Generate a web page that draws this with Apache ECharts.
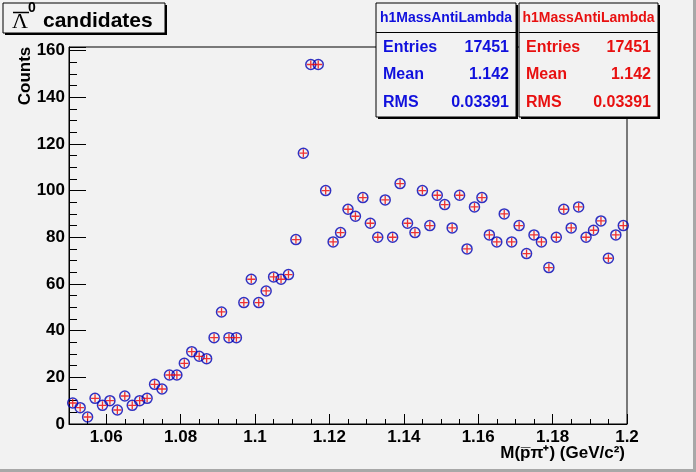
<!DOCTYPE html>
<html>
<head>
<meta charset="utf-8">
<script src="https://cdn.jsdelivr.net/npm/echarts@6/dist/echarts.min.js"></script>
<style>
html,body{margin:0;padding:0;background:#f2f2f2;}
#c{width:696px;height:472px;}
</style>
</head>
<body>
<div id="c"></div>
<script>
// Histogram definition (75 bins of 0.002 GeV/c^2 from 1.05 to 1.20)
const histLow = 1.05;
const binWidth = 0.002;
// Bin contents (both histograms are identical)
const countsBlue = [9,7,3,11,8,10,6,12,8,10,11,17,15,21,21,26,31,29,28,37,48,37,37,52,62,
                    52,57,63,62,64,79,116,154,154,100,78,82,92,89,97,86,80,96,80,103,86,82,100,85,98,
                    94,84,98,75,93,97,81,78,90,78,85,73,81,78,67,80,92,84,93,80,83,87,71,81,85];
const countsRed = countsBlue.slice();
const statsLabels = ['Entries','Mean','RMS'];
const statsValues = ['17451','1.142','0.03391'];
const histName = 'h1MassAntiLambda';
const xRange = [1.05, 1.2];
const yRange = [0, 161.5];

const FONT = '"Liberation Sans", Arial, Helvetica, sans-serif';
const blueData = countsBlue.map((v,i)=>[+(histLow + binWidth*(i+0.5)).toFixed(4), v]);
const redData = countsRed.map((v,i)=>[+(histLow + binWidth*(i+0.5)).toFixed(4), v]);

function statsBox(x0, w, color){
  const els = [];
  els.push({type:'rect', shape:{x:x0+2,y:5,width:w,height:114}, style:{fill:'#000'}, z:100});
  els.push({type:'rect', shape:{x:x0,y:3,width:w,height:114}, style:{fill:'#f2f2f2',stroke:'#000',lineWidth:1}, z:101});
  els.push({type:'line', shape:{x1:x0,y1:32.5,x2:x0+w,y2:32.5}, style:{stroke:'#000',lineWidth:1}, z:102});
  els.push({type:'text', x:x0+w/2, y:18, z:103, style:{text:histName, font:'bold 14px '+FONT, fill:color, textAlign:'center', textVerticalAlign:'middle', verticalAlign:'middle'}});
  const ys=[48,75,103];
  statsLabels.forEach((l,i)=>{
    els.push({type:'text', x:x0+7, y:ys[i], z:103, style:{text:l, font:'bold 16px '+FONT, fill:color, textAlign:'left', textVerticalAlign:'middle', verticalAlign:'middle'}});
    els.push({type:'text', x:x0+w-7, y:ys[i], z:103, style:{text:statsValues[i], font:'bold 16px '+FONT, fill:color, textAlign:'right', textVerticalAlign:'middle', verticalAlign:'middle'}});
  });
  return els;
}

const chart = echarts.init(document.getElementById('c'), null, {renderer:'canvas'});
const graphics = [
  {type:'rect', shape:{x:0,y:469,width:696,height:3}, style:{fill:'#a8a8a8'}, z:90},
  {type:'rect', shape:{x:693,y:0,width:3,height:472}, style:{fill:'#a8a8a8'}, z:90},
  // title box
  {type:'rect', shape:{x:5,y:5,width:162,height:30}, style:{fill:'#000'}, z:100},
  {type:'rect', shape:{x:3,y:3,width:162,height:30}, style:{fill:'#f2f2f2',stroke:'#000',lineWidth:1}, z:101},
  {type:'text', x:12, y:22, z:103, style:{text:'Λ', font:'22px "Liberation Serif", "DejaVu Serif", serif', fill:'#000', textAlign:'left', textVerticalAlign:'middle', verticalAlign:'middle'}},
  {type:'line', shape:{x1:13,y1:12.5,x2:29,y2:12.5}, style:{stroke:'#000',lineWidth:1.5}, z:103},
  {type:'text', x:28, y:8, z:103, style:{text:'0', font:'bold 14px '+FONT, fill:'#000', textAlign:'left', textVerticalAlign:'middle', verticalAlign:'middle'}},
  {type:'text', x:43, y:21.5, z:103, style:{text:'candidates', font:'bold 21px '+FONT, fill:'#000', textAlign:'left', textVerticalAlign:'middle', verticalAlign:'middle'}},
  // axis titles
  {type:'text', x:25, y:76, rotation:Math.PI/2, z:103, style:{text:'Counts', font:'bold 17px '+FONT, fill:'#000', textAlign:'center', textVerticalAlign:'middle', verticalAlign:'middle'}},
  {type:'text', x:625, y:453, z:103, style:{text:'M(p\u0305\u03C0\u207A) (GeV/c\u00B2)', font:'bold 17px '+FONT, fill:'#000', textAlign:'right', textVerticalAlign:'middle', verticalAlign:'middle'}}
].concat(statsBox(376,140,'#1010dd')).concat(statsBox(519,139,'#e81010'));

const option = {
  backgroundColor:'#f2f2f2',
  animation:false,
  grid:{left:69, right:69, top:47, bottom:48, show:true, borderColor:'#000', borderWidth:1, backgroundColor:'transparent'},
  xAxis:{
    type:'value', min:xRange[0], max:xRange[1], splitNumber:7,
    axisLine:{show:true, onZero:false, lineStyle:{color:'#000', width:1}},
    axisTick:{show:true, inside:true, length:10, lineStyle:{color:'#000'}},
    minorTick:{show:true, splitNumber:4, length:5, lineStyle:{color:'#000'}},
    splitLine:{show:false},
    axisLabel:{color:'#000', fontFamily:FONT, fontWeight:'bold', fontSize:17, margin:5,
      formatter:function(v){ if (Math.abs(v-xRange[0])<1e-9) return ''; return String(+v.toFixed(3)); }}
  },
  yAxis:{
    type:'value', min:yRange[0], max:yRange[1], interval:20,
    axisLine:{show:true, lineStyle:{color:'#000', width:1}},
    axisTick:{show:true, inside:true, length:17, lineStyle:{color:'#000'}},
    minorTick:{show:true, splitNumber:4, length:8, lineStyle:{color:'#000'}},
    splitLine:{show:false},
    axisLabel:{color:'#000', fontFamily:FONT, fontWeight:'bold', fontSize:17, margin:4,
      formatter:function(v){ return (Math.abs(v%20)<1e-9) ? String(v) : ''; }}
  },
  series:[
    {type:'scatter', data:blueData, symbol:'circle', symbolSize:10,
     itemStyle:{color:'rgba(0,0,0,0)', borderColor:'#0000b4', borderWidth:1.5}, z:3, silent:true},
    {type:'scatter', data:redData, symbol:'path://M0,-1L0,1M-1,0L1,0', symbolSize:8,
     itemStyle:{color:'none', borderColor:'#ee0000', borderWidth:1.3}, z:4, silent:true}
  ],
  graphic:graphics
};
chart.setOption(option);
</script>
</body>
</html>
